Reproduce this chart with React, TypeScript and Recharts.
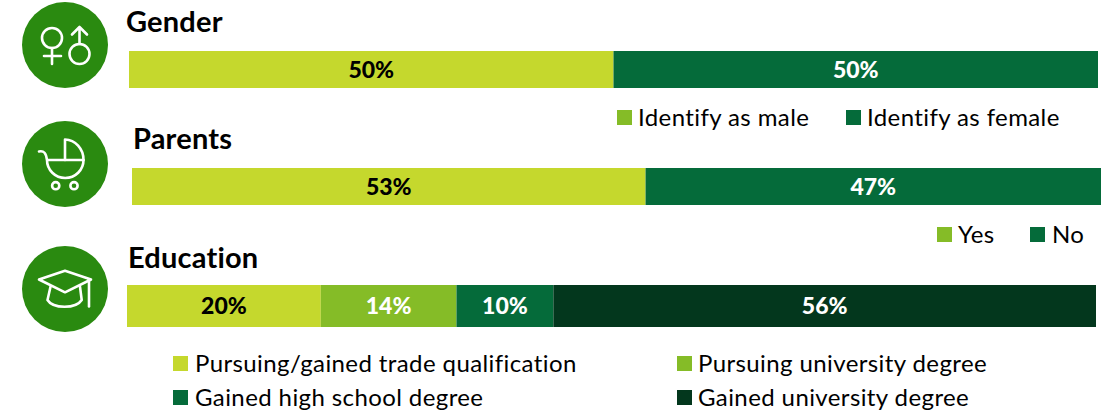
import { Bar, BarChart, LabelList, XAxis, YAxis } from 'recharts';

const LIME = '#c5d82d';
const LEAF = '#85bc27';
const GREEN = '#056b3a';
const FOREST = '#03371d';
const BADGE = '#2a8a10';
const FONT = 'Lato, sans-serif';

const genderValues = [50, 50];
const genderColors = [LIME, GREEN];
const genderLabelColors = ['#000', '#fff'];
const genderLegend = ['Identify as male', 'Identify as female'];

const parentValues = [53, 47];
const parentColors = [LIME, GREEN];
const parentLabelColors = ['#000', '#fff'];
const parentLegend = ['Yes', 'No'];

const educationValues = [20, 14, 10, 56];
const educationColors = [LIME, LEAF, GREEN, FOREST];
const educationLabelColors = ['#000', '#fff', '#fff', '#fff'];
const educationLegend = [
  'Pursuing/gained trade qualification',
  'Pursuing university degree',
  'Gained high school degree',
  'Gained university degree',
];

interface RowProps {
  values: number[];
  colors: string[];
  labelColors: string[];
  left: number;
  top: number;
  width: number;
  height: number;
}

function StackedRow({ values, colors, labelColors, left, top, width, height }: RowProps) {
  const row: Record<string, number | string> = { name: 'row' };
  values.forEach((v, i) => {
    row[`s${i}`] = v;
  });

  return (
    <div style={{ position: 'absolute', left, top, width, height }}>
      <BarChart
        width={width}
        height={height}
        data={[row]}
        layout="vertical"
        barCategoryGap={0}
        margin={{ top: 0, right: 0, bottom: 0, left: 0 }}
      >
        <XAxis type="number" domain={[0, 100]} hide />
        <YAxis type="category" dataKey="name" hide />
        {values.map((_, i) => (
          <Bar key={i} dataKey={`s${i}`} stackId="a" fill={colors[i]} isAnimationActive={false}>
            <LabelList
              dataKey={`s${i}`}
              position="center"
              formatter={(v: any) => `${v}%`}
              fill={labelColors[i]}
              style={{ fontFamily: FONT, fontSize: 23, fontWeight: 900 }}
            />
          </Bar>
        ))}
      </BarChart>
    </div>
  );
}

function Title({ text, x, y }: { text: string; x: number; y: number }) {
  return (
    <div
      style={{
        position: 'absolute',
        left: x,
        top: y,
        fontFamily: FONT,
        fontSize: 29,
        fontWeight: 700,
        letterSpacing: 0.2,
        lineHeight: '32px',
        color: '#000',
      }}
    >
      {text}
    </div>
  );
}

function Key({ text, color, x, y, textX }: { text: string; color: string; x: number; y: number; textX: number }) {
  return (
    <>
      <div style={{ position: 'absolute', left: x, top: y, width: 15, height: 15, background: color }} />
      <div
        style={{
          position: 'absolute',
          left: textX,
          top: y - 8,
          fontFamily: FONT,
          fontSize: 24,
          letterSpacing: 0.4,
          lineHeight: '30px',
          color: '#000',
          whiteSpace: 'nowrap',
        }}
      >
        {text}
      </div>
    </>
  );
}

function Icons() {
  const line = { fill: 'none', stroke: '#fff', strokeWidth: 2.6, strokeLinecap: 'round', strokeLinejoin: 'round' } as const;
  return (
    <svg width={130} height={340} style={{ position: 'absolute', left: 0, top: 0 }}>
      <circle cx={65} cy={45} r={43} fill={BADGE} />
      <circle cx={65} cy={164} r={43} fill={BADGE} />
      <circle cx={65} cy={289} r={43} fill={BADGE} />

      {/* gender */}
      <g {...line}>
        <circle cx={52} cy={38} r={10} />
        <path d="M52 48V64M44 56H61" />
        <circle cx={79.5} cy={54} r={10} />
        <path d="M79.5 44V27M72 34.5L79.5 27L87 34.5" />
      </g>

      {/* pram */}
      <g {...line}>
        <path d="M65 160V139.5A19 20.5 0 0 1 83.5 160" />
        <path d="M39 151.5C44 150.5 46 153 47 160A18.2 18 0 0 0 83.5 160H47" />
        <circle cx={55.7} cy={185.7} r={3.6} />
        <circle cx={74} cy={185.7} r={3.6} />
      </g>

      {/* mortarboard */}
      <g {...line}>
        <path d="M39 279.5L65 270.7L91 279.5L65 292.3Z" />
        <path d="M50.5 286.7L47.5 300C53 309 76 309 81.7 300L80 286.7" />
        <path d="M89 281V306.5" />
      </g>
    </svg>
  );
}

export default function App() {
  return (
    <div style={{ position: 'absolute', left: 0, top: 0, width: 1111, height: 414, background: '#fff', overflow: 'hidden' }}>
      <Icons />

      <Title text="Gender" x={126} y={5} />
      <StackedRow values={genderValues} colors={genderColors} labelColors={genderLabelColors} left={129} top={51} width={969} height={37} />
      <Key text={genderLegend[0]} color={LEAF} x={617} y={110} textX={638} />
      <Key text={genderLegend[1]} color={GREEN} x={846} y={110} textX={867} />

      <Title text="Parents" x={133} y={122} />
      <StackedRow values={parentValues} colors={parentColors} labelColors={parentLabelColors} left={132} top={168} width={969} height={37} />
      <Key text={parentLegend[0]} color={LEAF} x={937} y={227} textX={958} />
      <Key text={parentLegend[1]} color={GREEN} x={1030} y={227} textX={1052} />

      <Title text="Education" x={128} y={241} />
      <StackedRow values={educationValues} colors={educationColors} labelColors={educationLabelColors} left={127} top={285} width={969} height={42} />
      <Key text={educationLegend[0]} color={LIME} x={173} y={356} textX={195} />
      <Key text={educationLegend[1]} color={LEAF} x={677} y={356} textX={698} />
      <Key text={educationLegend[2]} color={GREEN} x={173} y={390} textX={195} />
      <Key text={educationLegend[3]} color={FOREST} x={677} y={390} textX={698} />
    </div>
  );
}
